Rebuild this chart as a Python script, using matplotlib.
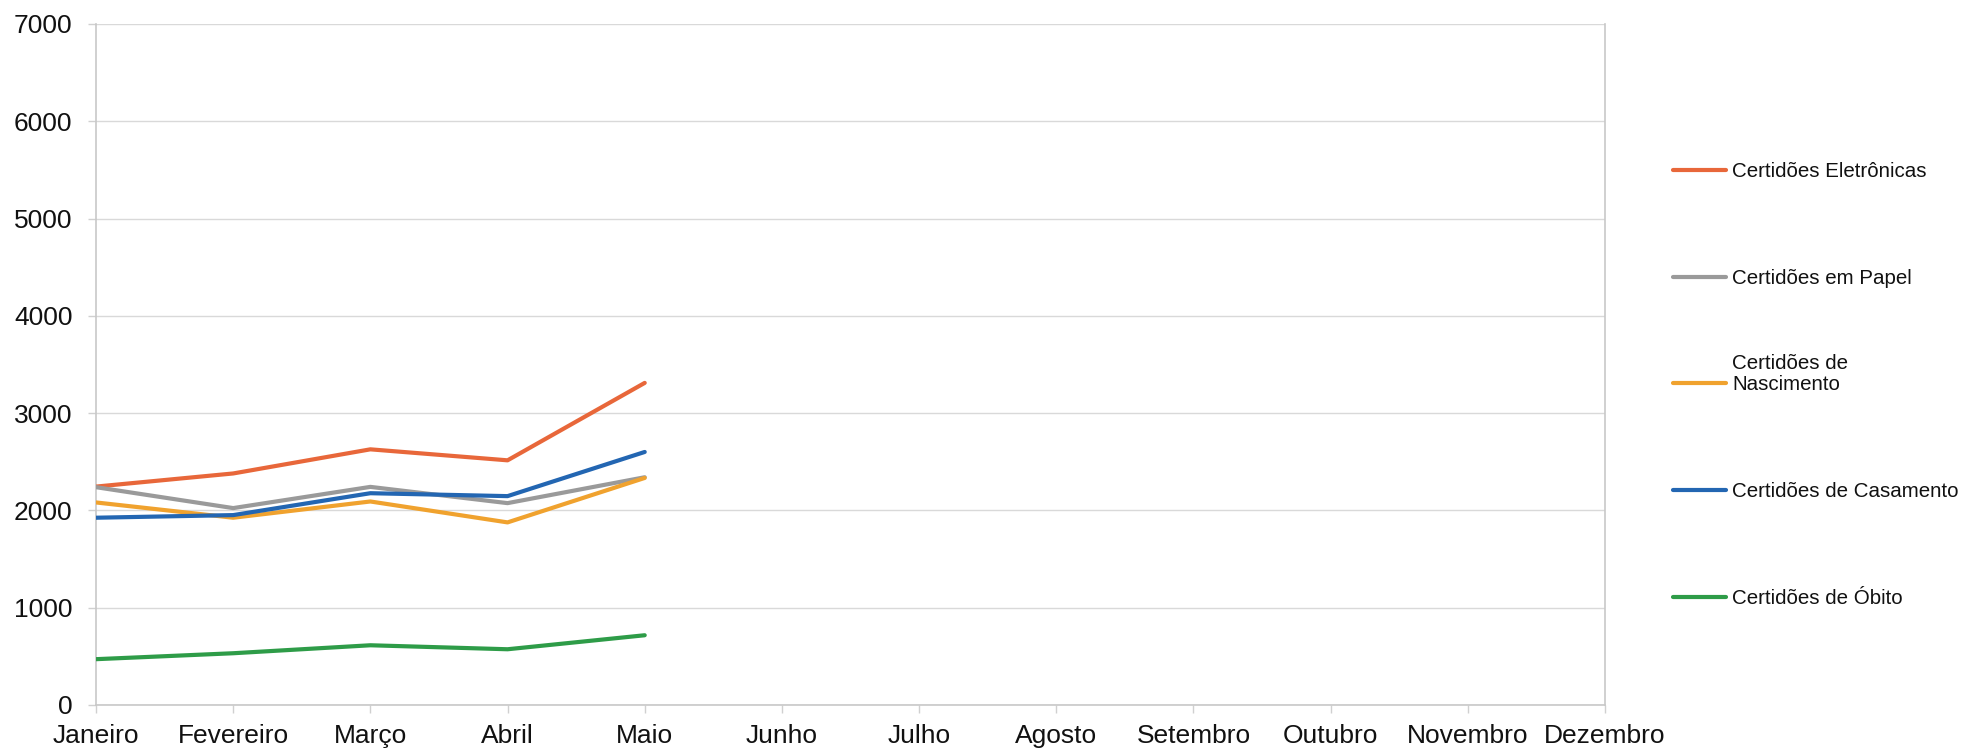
import matplotlib
matplotlib.use("Agg")
import matplotlib.pyplot as plt
from matplotlib.lines import Line2D

# data
months = ["Janeiro", "Fevereiro", "Março", "Abril", "Maio", "Junho",
          "Julho", "Agosto", "Setembro", "Outubro", "Novembro", "Dezembro"]
eletronicas = [2245, 2380, 2628, 2515, 3311]
papel = [2239, 2024, 2242, 2075, 2341]
nascimento = [2082, 1925, 2092, 1877, 2334]
casamento = [1925, 1952, 2177, 2147, 2601]
obito = [471, 532, 614, 573, 717]

labels = ["Certidões Eletrônicas", "Certidões em Papel",
          "Certidões de\nNascimento", "Certidões de Casamento",
          "Certidões de Óbito"]
colors = ["#E8673A", "#9A9A9A", "#F0A22E", "#2366B2", "#2E9C48"]
series = [eletronicas, papel, nascimento, casamento, obito]

plt.rcParams["font.family"] = ["Liberation Sans", "DejaVu Sans"]

W, H = 1961, 752
fig = plt.figure(figsize=(W / 100, H / 100), dpi=100)
ax = fig.add_axes([96 / W, 1 - 705 / H, (1605 - 96) / W, (705 - 24) / H])

for vals, col in zip(series, colors):
    ax.plot(range(len(vals)), vals, color=col, lw=3.0,
            solid_capstyle="round", solid_joinstyle="round", zorder=3)

ax.set_xlim(0, len(months) - 1)
ax.set_ylim(0, 7000)
ax.set_xticks(range(len(months)))
ax.set_xticklabels(months)
ax.set_yticks(range(0, 7001, 1000))
ax.grid(axis="y", color="#d9d9d9", lw=1)
ax.set_axisbelow(True)

for side in ["top", "right", "left", "bottom"]:
    ax.spines[side].set_color("#c8c8c8")
    ax.spines[side].set_linewidth(1.2)
ax.spines["top"].set_visible(False)

ax.tick_params(axis="x", length=6, width=1, color="#d0d0d0", pad=8,
               labelsize=19, labelcolor="#111111")
ax.tick_params(axis="y", length=6, width=1, color="#d0d0d0", pad=11,
               labelsize=19, labelcolor="#111111")

# legend drawn on the right, one entry per series
leg_y = [170, 277, 383, 490, 597]
for lab, col, yy in zip(labels, colors, leg_y):
    fig.add_artist(Line2D([1673 / W, 1726 / W], [1 - yy / H, 1 - yy / H],
                          color=col, lw=3.0, solid_capstyle="round",
                          transform=fig.transFigure))
    fig.text(1732 / W, 1 - (yy + 7) / H, lab, fontsize=14.8,
             color="#111111", ha="left", va="baseline", linespacing=1.15)

fig.savefig("out.png", dpi=100)
